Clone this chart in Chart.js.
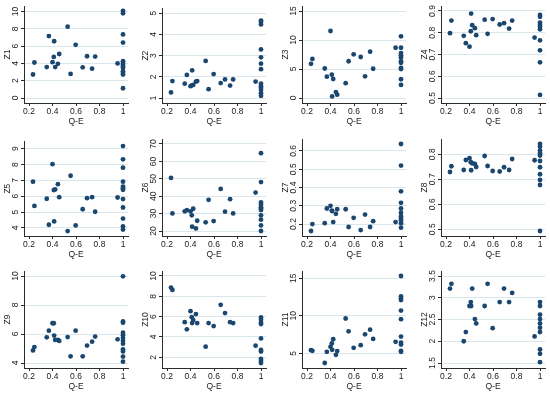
<!DOCTYPE html>
<html>
<head>
<meta charset="utf-8">
<script src="https://cdn.jsdelivr.net/npm/chart.js@4.4.0/dist/chart.umd.min.js"></script>
<style>
  html, body { margin: 0; padding: 0; background: #fff; }
  #wrap { position: relative; width: 550px; height: 398px; overflow: hidden; }
  #wrap canvas { position: absolute; }
</style>
</head>
<body>
<div id="wrap"></div>
<script>
// Q-E values of the 18 observations below 1
const qe = [0.234, 0.246, 0.351, 0.369, 0.40, 0.411, 0.414, 0.423, 0.446, 0.457,
            0.529, 0.554, 0.597, 0.657, 0.694, 0.737, 0.763, 0.954];
const qeTicks = [0.2, 0.4, 0.6, 0.8, 1];
const qeTickLabels = ['0.2', '0.4', '0.6', '0.8', '1'];

// first 18 values go with qe, the remaining ones sit at Q-E = 1
const z1 = [2.72, 4.11, 3.58, 7.17, 4.15, 4.75, 6.57, 3.58, 3.96, 5.09, 8.26, 2.79, 6.15, 3.55, 4.83, 3.40, 4.79, 4.0,
            10.07, 9.8, 7.36, 6.42, 4.26, 4.04, 3.85, 3.66, 3.47, 3.09, 2.9, 2.72, 1.13];
const z2 = [1.27, 1.80, 1.68, 2.09, 1.56, 1.60, 2.31, 1.62, 1.78, 1.80, 2.75, 1.42, 2.13, 1.71, 1.88, 1.59, 1.88, 1.78,
            4.65, 4.58, 4.47, 3.29, 2.92, 2.62, 2.36, 1.68, 1.56, 1.48, 1.38, 1.23, 1.11];
const z3 = [5.89, 6.73, 5.09, 3.68, 11.55, 4.02, 0.28, 3.28, 1.02, 0.57, 2.55, 6.34, 7.53, 7.07, 3.74, 7.98, 5.04, 8.66,
            10.64, 8.66, 7.75, 7.36, 7.02, 6.34, 6.06, 5.21, 4.98, 3.23, 2.26];
const z4 = [0.798, 0.856, 0.786, 0.752, 0.736, 0.807, 0.888, 0.835, 0.821, 0.789, 0.860, 0.795, 0.863, 0.838, 0.844, 0.819, 0.856, 0.778,
            0.882, 0.873, 0.847, 0.836, 0.827, 0.816, 0.765, 0.719, 0.664, 0.514];
const z5 = [6.92, 5.39, 5.84, 4.20, 8.02, 6.39, 4.41, 6.43, 6.76, 5.94, 3.80, 7.29, 4.16, 5.18, 5.88, 5.94, 5.02, 5.92,
            9.16, 8.33, 7.80, 6.92, 6.61, 6.51, 6.41, 5.82, 5.29, 4.59, 4.10, 3.90];
const z6 = [50.5, 30.1, 31.3, 32.0, 31.3, 29.0, 22.5, 32.8, 21.5, 25.9, 25.0, 37.9, 25.7, 44.2, 31.1, 38.3, 30.1, 42.1,
            64.7, 48.1, 36.4, 35.1, 33.7, 33.0, 32.0, 29.0, 26.5, 23.2, 20.0];
const z7 = [0.162, 0.200, 0.205, 0.285, 0.300, 0.274, 0.271, 0.211, 0.256, 0.281, 0.281, 0.184, 0.234, 0.167, 0.252, 0.184, 0.216, 0.211,
            0.638, 0.520, 0.379, 0.316, 0.285, 0.262, 0.243, 0.231, 0.220, 0.205, 0.180];
const z8 = [0.729, 0.752, 0.737, 0.777, 0.784, 0.768, 0.736, 0.764, 0.761, 0.749, 0.793, 0.753, 0.733, 0.731, 0.748, 0.737, 0.781, 0.776,
            0.841, 0.831, 0.815, 0.804, 0.795, 0.773, 0.748, 0.720, 0.697, 0.677, 0.493];
const z9 = [4.87, 5.10, 5.77, 6.23, 6.74, 6.74, 5.89, 5.59, 5.59, 5.52, 5.79, 4.46, 6.23, 4.46, 5.20, 5.47, 5.82, 5.63,
            9.98, 6.87, 6.78, 6.09, 5.91, 5.72, 5.54, 5.33, 4.94, 4.80, 4.44, 4.09];
const z10 = [8.86, 8.63, 5.46, 4.75, 6.54, 5.95, 5.37, 5.66, 6.25, 5.37, 3.05, 5.37, 5.07, 7.16, 6.35, 5.46, 5.37, 3.14,
             5.92, 5.69, 5.40, 5.27, 3.86, 2.72, 2.56, 1.84, 1.64, 1.44];
const z11 = [5.44, 5.35, 3.73, 5.22, 5.88, 6.32, 5.48, 6.89, 4.82, 5.31, 9.65, 7.94, 5.75, 6.10, 7.54, 8.16, 6.93, 6.54,
             15.3, 12.6, 12.3, 12.1, 10.7, 9.56, 7.24, 6.45, 6.18, 5.35, 5.22];
const z12 = [3.21, 3.32, 2.00, 2.21, 2.81, 2.90, 2.81, 3.21, 2.51, 2.41, 2.81, 3.32, 2.30, 2.90, 3.21, 2.90, 3.11, 2.11,
             2.90, 2.81, 2.61, 2.51, 2.41, 2.31, 2.21, 1.81, 1.71, 1.52];

const panelNames = ['Z1', 'Z2', 'Z3', 'Z4', 'Z5', 'Z6', 'Z7', 'Z8', 'Z9', 'Z10', 'Z11', 'Z12'];
const panelData = [z1, z2, z3, z4, z5, z6, z7, z8, z9, z10, z11, z12];
const yTicks = [
  [0, 2, 4, 6, 8, 10], [1, 2, 3, 4, 5], [0, 5, 10, 15], [0.5, 0.6, 0.7, 0.8, 0.9],
  [4, 5, 6, 7, 8, 9], [20, 30, 40, 50, 60, 70], [0.2, 0.3, 0.4, 0.5, 0.6], [0.5, 0.6, 0.7, 0.8],
  [4, 6, 8, 10], [2, 4, 6, 8, 10], [5, 10, 15], [1.5, 2, 2.5, 3, 3.5]
];

const navy = '#1a476f';
const gridCol = '#d9e7ed';
const axisCol = '#2b2b2b';
const textCol = '#1a1a1a';
const fontFam = "'Liberation Sans', Arial, sans-serif";
const fontSize = 8.5;

// layout of the 3 x 4 grid
const colLeft = [0, 137, 276, 413, 550];
const axisX = [24, 162, 302, 441];
const rowTop = [0, 133, 265];
const plotW = 104, plotH = 97, padTop = 6, canvasH = 133, inner = 87;

function padRange(lo, hi, px, span) {
  const p = (hi - lo) * px / span;
  return [lo - p, hi + p];
}

// rotated y labels are centred by Chart.js using their unrotated width,
// so measure it to put the label centre a fixed distance from the axis
const measureCtx = document.createElement('canvas').getContext('2d');
measureCtx.font = fontSize + 'px ' + fontFam;
function widestLabel(list) {
  return Math.max(...list.map(v => measureCtx.measureText(String(v)).width));
}

const wrap = document.getElementById('wrap');
panelData.forEach((vals, i) => {
  const r = Math.floor(i / 4), c = i % 4;
  const w = colLeft[c + 1] - colLeft[c];
  const yW = axisX[c] - colLeft[c];
  const cv = document.createElement('canvas');
  cv.width = w; cv.height = canvasH;
  cv.style.left = colLeft[c] + 'px';
  cv.style.top = rowTop[r] + 'px';
  cv.style.width = w + 'px';
  cv.style.height = canvasH + 'px';
  wrap.appendChild(cv);

  const pts = vals.map((v, k) => ({ x: k < qe.length ? qe[k] : 1, y: v }));
  const tk = yTicks[i];
  const lo = Math.min(tk[0], ...vals), hi = Math.max(tk[tk.length - 1], ...vals);
  const [yMin, yMax] = padRange(lo, hi, 5, inner);
  const [xMin, xMax] = padRange(0.2, 1, 5, plotW - 10);
  const yPad = 5.5 - widestLabel(tk) / 2;

  new Chart(cv.getContext('2d'), {
    type: 'scatter',
    data: {
      datasets: [{
        data: pts,
        pointRadius: 2.4,
        pointHoverRadius: 2.4,
        pointBackgroundColor: navy,
        pointBorderWidth: 0
      }]
    },
    options: {
      responsive: false,
      animation: false,
      devicePixelRatio: 1,
      layout: { padding: { top: padTop, left: 0, bottom: 0, right: w - yW - plotW } },
      plugins: { legend: { display: false }, tooltip: { enabled: false } },
      scales: {
        x: {
          type: 'linear',
          min: xMin, max: xMax,
          afterBuildTicks: s => { s.ticks = qeTicks.map(v => ({ value: v })); },
          afterFit: s => { s.height = canvasH - padTop - plotH; },
          ticks: {
            callback: (v, idx) => qeTickLabels[idx],
            autoSkip: false, maxRotation: 0, padding: 1,
            color: textCol, font: { family: fontFam, size: fontSize }
          },
          grid: { drawOnChartArea: false, tickLength: 3, tickColor: axisCol },
          border: { color: axisCol, width: 1 },
          title: {
            display: true, text: 'Q-E', color: textCol,
            font: { family: fontFam, size: fontSize },
            padding: { top: 0, bottom: 6.5 }
          }
        },
        y: {
          type: 'linear',
          min: yMin, max: yMax,
          afterBuildTicks: s => { s.ticks = tk.map(v => ({ value: v })); },
          afterFit: s => { s.width = yW; },
          ticks: {
            callback: v => String(v),
            autoSkip: false, minRotation: 90, maxRotation: 90,
            crossAlign: 'center', padding: yPad,
            color: textCol, font: { family: fontFam, size: fontSize }
          },
          grid: { color: gridCol, tickLength: 3, tickColor: axisCol, lineWidth: 1 },
          border: { color: axisCol, width: 1 },
          title: {
            display: true, text: panelNames[i], color: textCol,
            font: { family: fontFam, size: fontSize },
            padding: { top: yW - 16.5 - 5.1, bottom: 0 }
          }
        }
      }
    }
  });
});
</script>
</body>
</html>
